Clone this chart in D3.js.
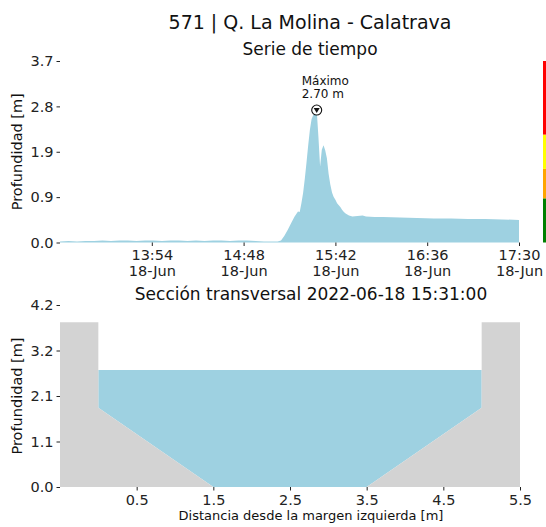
<!DOCTYPE html>
<html>
<head>
<meta charset="utf-8">
<script src="https://cdn.jsdelivr.net/npm/d3@7"></script>
<style>
  body { margin: 0; background: #fff; }
  svg { display: block; font-family: "DejaVu Sans", sans-serif; }
  .axis path.domain { display: none; }
  .axis line { stroke: #222; }
  .axis text { fill: #222; font-size: 14.5px; font-family: "DejaVu Sans", sans-serif; }
</style>
</head>
<body>
<svg id="chart" width="546" height="527"></svg>
<script>
// ---- data ----
const times = ["13:00","13:05","13:10","13:15","13:20","13:25","13:30","13:35","13:40","13:45","13:50","13:55",
  "14:00","14:05","14:10","14:15","14:20","14:25","14:30","14:35","14:40","14:45","14:50","14:55","15:00","15:05","15:08",
  "15:10","15:12","15:14","15:16","15:18","15:19","15:20","15:21","15:22","15:23","15:24","15:25","15:26","15:27","15:28",
  "15:29","15:30","15:31","15:32","15:33","15:34","15:35","15:36","15:37","15:38","15:39","15:40","15:41","15:42","15:43",
  "15:44","15:45","15:46","15:47","15:48","15:50","15:52","15:55","15:58","16:00","16:05","16:10","16:20","16:30","16:40",
  "16:50","17:00","17:10","17:20","17:30"];
const depths = [0.02,0.03,0.02,0.03,0.03,0.04,0.03,0.04,0.04,0.03,0.04,0.04,
  0.03,0.04,0.04,0.03,0.04,0.03,0.04,0.04,0.03,0.04,0.04,0.03,0.02,0.02,0.02,
  0.04,0.14,0.26,0.40,0.53,0.58,0.63,0.62,0.80,1.01,1.30,1.63,1.98,2.30,2.52,
  2.60,2.62,2.70,2.16,1.55,1.89,1.98,1.88,1.72,1.40,1.18,1.02,0.93,0.87,0.80,
  0.76,0.72,0.66,0.62,0.59,0.55,0.53,0.54,0.55,0.53,0.52,0.52,0.51,0.50,0.49,
  0.49,0.48,0.48,0.47,0.46];
const timeTicks = ["13:54","14:48","15:42","16:36","17:30"];
const depthTicks = [0, 0.925, 1.85, 2.775, 3.7];
const depthTickLabels = ["0.0","0.9","1.9","2.8","3.7"];
const alertLevels = [0, 0.9, 1.5, 2.2, 3.7];
const alertColors = ["green","orange","yellow","red"];

const sectionX = [-0.5, 0.0, 0.0, 1.5, 3.5, 5.0, 5.0, 5.5];
const sectionZ = [3.8, 3.8, 1.83, 0.0, 0.0, 1.83, 3.8, 3.8];
const waterLevel = 2.70;
const distTicks = [0.5, 1.5, 2.5, 3.5, 4.5, 5.5];
const secTicks = [0, 1.05, 2.1, 3.15, 4.2];
const secTickLabels = ["0.0","1.1","2.1","3.2","4.2"];

const day = "2022-06-18";
const parseTime = d3.timeParse("%Y-%m-%d %H:%M");

const series = times.map((t, i) => ({date: parseTime(`${day} ${t}`), depth: depths[i]}));

let chart = d3.select("#chart");
let water = "#9ed1e1";
let ground = "#d3d3d3";

// titles
chart.append("text").attr("x", 310).attr("y", 29).attr("text-anchor","middle")
  .style("font-size","19px").style("fill","#111").text("571 | Q. La Molina - Calatrava");
chart.append("text").attr("x", 310).attr("y", 55).attr("text-anchor","middle")
  .style("font-size","17px").style("fill","#111").text("Serie de tiempo");
chart.append("text").attr("x", 311).attr("y", 300).attr("text-anchor","middle")
  .style("font-size","17px").style("fill","#111").text(`Sección transversal ${day} 15:31:00`);

// ---- time series ----
const tsBox = {left: 60, right: 519, top: 61, bottom: 242.5};

let x = d3.scaleTime()
  .domain(d3.extent(series, d => d.date))
  .range([tsBox.left, tsBox.right]);
let y = d3.scaleLinear()
  .domain([0, 3.7])
  .range([tsBox.bottom, tsBox.top]);

let area = d3.area()
  .x(d => x(d.date))
  .y0(y(0))
  .y1(d => y(d.depth));

chart.append("path")
  .datum(series)
  .attr("fill", water)
  .attr("d", area);

let xAxis = d3.axisBottom(x)
  .tickValues(timeTicks.map(t => parseTime(`${day} ${t}`)))
  .tickSize(3.5).tickPadding(3.5)
  .tickFormat(d3.timeFormat("%H:%M"));
let gx = chart.append("g")
  .attr("class","x axis")
  .attr("transform", `translate(0,${tsBox.bottom})`)
  .call(xAxis);
gx.selectAll(".tick text").each(function(d) {
  let t = d3.select(this);
  t.text(null);
  t.append("tspan").attr("x", 0).text(d3.timeFormat("%H:%M")(d));
  t.append("tspan").attr("x", 0).attr("dy", "1.1em").text(d3.timeFormat("%d-%b")(d));
});

let yAxis = d3.axisLeft(y)
  .tickValues(depthTicks)
  .tickSize(3.5).tickPadding(3)
  .tickFormat((d, i) => depthTickLabels[i]);
chart.append("g")
  .attr("class","y axis")
  .attr("transform", `translate(${tsBox.left},0)`)
  .call(yAxis);

chart.append("text")
  .attr("transform","rotate(-90)")
  .attr("x", -(tsBox.top + tsBox.bottom) / 2)
  .attr("y", 21.5)
  .attr("text-anchor","middle")
  .style("font-size","14.5px").style("fill","#111")
  .text("Profundidad [m]");

// alert colour bar
chart.selectAll(".alert")
  .data(alertColors)
  .enter().append("rect")
  .attr("class","alert")
  .attr("x", 543)
  .attr("width", 4)
  .attr("y", (d, i) => y(alertLevels[i + 1]))
  .attr("height", (d, i) => y(alertLevels[i]) - y(alertLevels[i + 1]))
  .attr("fill", d => d);

// maximum marker
let peak = series.reduce((a, b) => (b.depth > a.depth ? b : a));
let px = x(peak.date), py = y(peak.depth);
let mark = chart.append("g").attr("transform", `translate(${px},${py})`);
mark.append("circle").attr("r", 5).attr("fill","#fff").attr("stroke","#111").attr("stroke-width", 1.1);
mark.append("path").attr("d","M-3,-2 L3,-2 L0,3 Z").attr("fill","#111");
chart.append("text").attr("x", px - 15).attr("y", 85)
  .style("font-size","12px").style("fill","#111").text("Máximo");
chart.append("text").attr("x", px - 15).attr("y", 97.5)
  .style("font-size","12px").style("fill","#111").text(`${peak.depth.toFixed(2)} m`);

// ---- cross section ----
const secBox = {left: 60, right: 520, top: 305, bottom: 487};

let sx = d3.scaleLinear().domain([-0.5, 5.5]).range([secBox.left, secBox.right]);
let sy = d3.scaleLinear().domain([0, 4.2]).range([secBox.bottom, secBox.top]);

let bed = sectionX.map((v, i) => ({x: v, z: sectionZ[i]}));
let wet = bed.filter((d, i) => i >= 2 && i <= 5);

chart.append("path")
  .datum(wet)
  .attr("fill", water)
  .attr("d", d3.area().x(d => sx(d.x)).y0(d => sy(d.z)).y1(sy(waterLevel)));

chart.append("path")
  .datum(bed)
  .attr("fill", ground)
  .attr("d", d3.area().x(d => sx(d.x)).y0(sy(0)).y1(d => sy(d.z)));

let sxAxis = d3.axisBottom(sx)
  .tickValues(distTicks)
  .tickSize(3.5).tickPadding(4.5)
  .tickFormat(d3.format(".1f"));
chart.append("g")
  .attr("class","x axis")
  .attr("transform", `translate(0,${secBox.bottom})`)
  .call(sxAxis);

let syAxis = d3.axisLeft(sy)
  .tickValues(secTicks)
  .tickSize(3.5).tickPadding(3)
  .tickFormat((d, i) => secTickLabels[i]);
chart.append("g")
  .attr("class","y axis")
  .attr("transform", `translate(${secBox.left},0)`)
  .call(syAxis);

chart.append("text")
  .attr("transform","rotate(-90)")
  .attr("x", -(secBox.top + secBox.bottom) / 2)
  .attr("y", 21.5)
  .attr("text-anchor","middle")
  .style("font-size","14.5px").style("fill","#111")
  .text("Profundidad [m]");

chart.append("text").attr("x", 311).attr("y", 520).attr("text-anchor","middle")
  .style("font-size","13px").style("fill","#111")
  .text("Distancia desde la margen izquierda [m]");
</script>
</body>
</html>
